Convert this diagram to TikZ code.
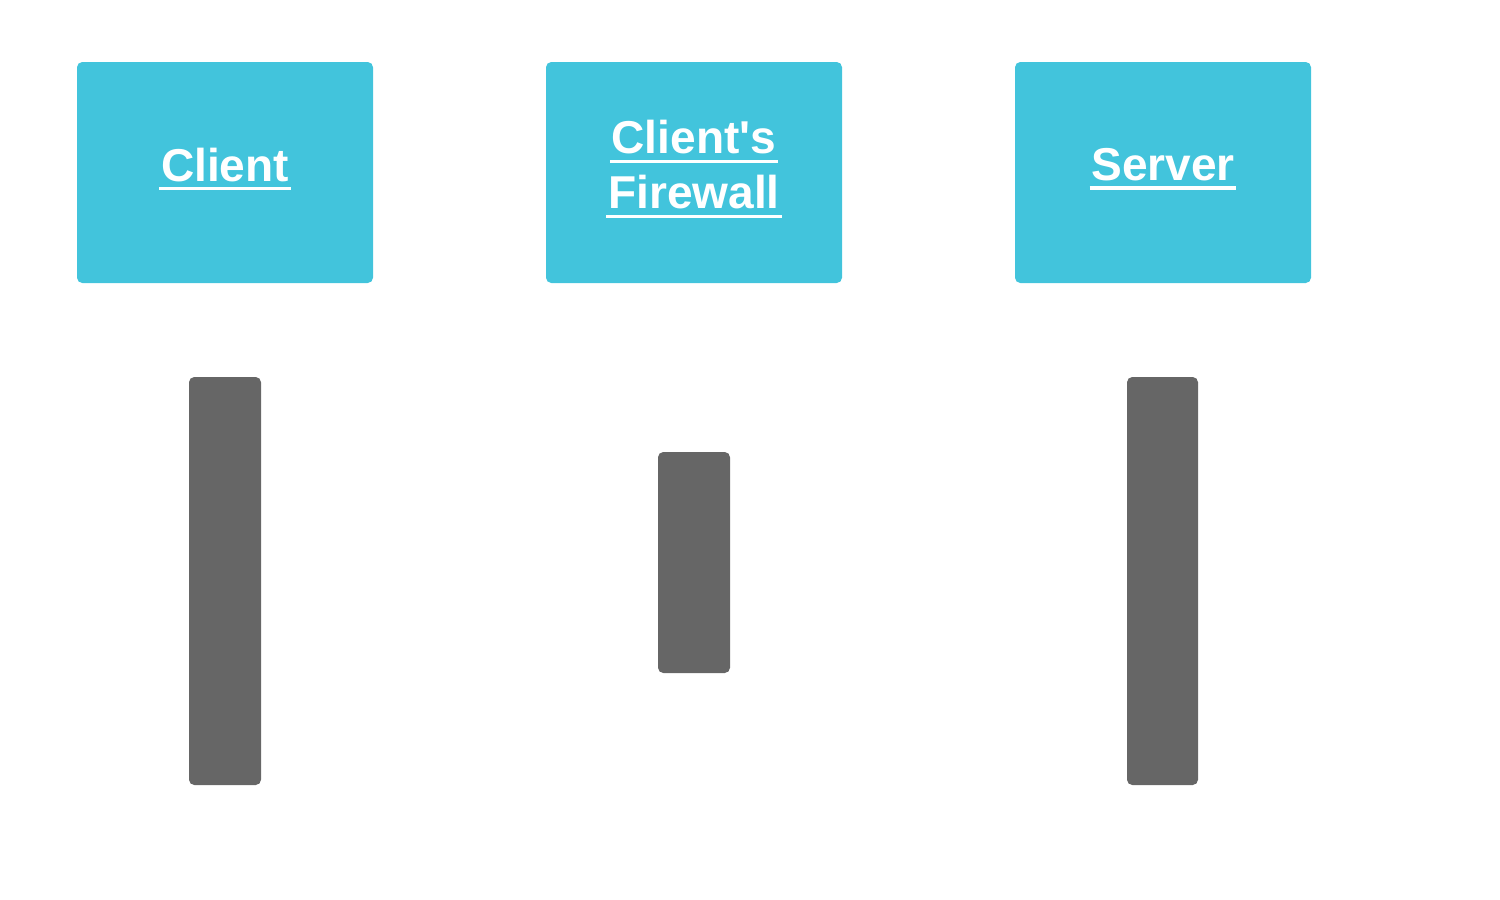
\documentclass[tikz,border=0pt]{standalone}
\usepackage{fontspec}
\setmainfont{Liberation Sans}
\definecolor{boxblue}{HTML}{42C4DC}
\definecolor{bargray}{HTML}{666666}
\newcommand{\myul}[1]{\setbox0\hbox{#1}\rlap{\kern-0.5pt\rule[-2.6pt]{\dimexpr\wd0+1pt\relax}{0.9pt}}\box0}
\begin{document}
\begin{tikzpicture}[x=0.01cm,y=-0.01cm,
  headtext/.style={text=white,font=\fontsize{13.1}{15.6}\selectfont\bfseries,align=center},
  headbox/.style={fill=boxblue,draw=none,rounded corners=1.5pt},
  bar/.style={fill=bargray,draw=none,rounded corners=1.5pt}]
\useasboundingbox (0,0) rectangle (1500,900);
\path[headbox] (77,62) rectangle (373,283);
\path[headbox] (546,62) rectangle (842,283);
\path[headbox] (1015,62) rectangle (1311,283);
\node[headtext] (client) at (225,169) {\myul{Client}};
\node[headtext] (firewall) at (694,169) {\myul{Client\textquotesingle s}\\\myul{Firewall}};
\node[headtext] (server) at (1163,169) {\myul{Server}};
\path[bar] (189,377) rectangle (261,785);
\path[bar] (658,452) rectangle (730,673);
\path[bar] (1127,377) rectangle (1198,785);
\end{tikzpicture}
\end{document}
